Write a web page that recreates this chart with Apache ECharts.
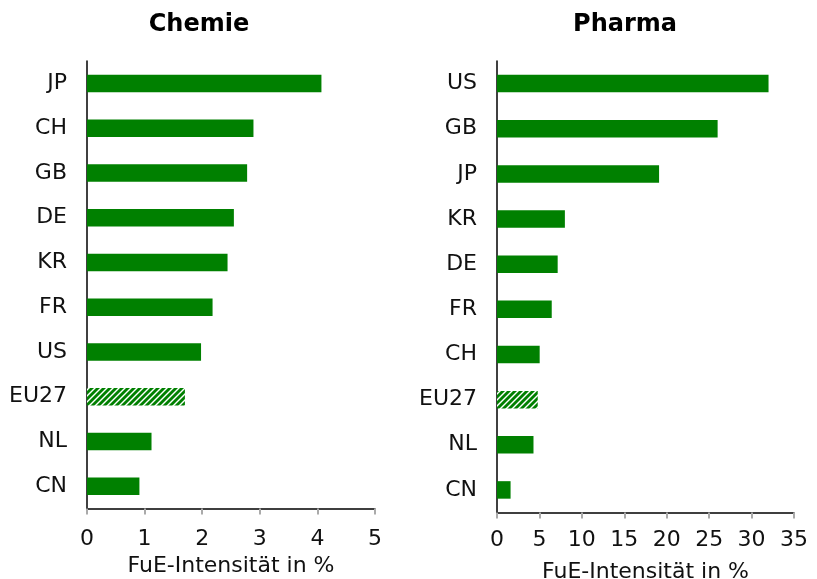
<!DOCTYPE html>
<html>
<head>
<meta charset="utf-8">
<script src="https://cdn.jsdelivr.net/npm/echarts@6/dist/echarts.min.js"></script>
<style>
  html, body { margin: 0; padding: 0; background: #fff; }
  #chart { width: 817px; height: 579px; }
</style>
</head>
<body>
<div id="chart"></div>
<script>
// Chemie
const chemieLabels = ['JP', 'CH', 'GB', 'DE', 'KR', 'FR', 'US', 'EU27', 'NL', 'CN']
const chemieValues = [4.07, 2.89, 2.78, 2.55, 2.44, 2.18, 1.98, 1.70, 1.12, 0.91]

// Pharma
const pharmaLabels = ['US', 'GB', 'JP', 'KR', 'DE', 'FR', 'CH', 'EU27', 'NL', 'CN']
const pharmaValues = [32.0, 26.0, 19.1, 8.0, 7.15, 6.45, 5.03, 4.8, 4.3, 1.6]

const hatchedLabel = 'EU27'
const green = '#008000'
const font = 'DejaVu Sans, Verdana, sans-serif'

// diagonal stripes for the EU27 bar
const hatch = document.createElement('canvas')
hatch.width = 6
hatch.height = 6
const ctx = hatch.getContext('2d')
ctx.fillStyle = '#fff'
ctx.fillRect(0, 0, 6, 6)
ctx.strokeStyle = green
ctx.lineWidth = 2.8
;[[-3, 3, 3, -3], [0, 6, 6, 0], [3, 9, 9, 3]].forEach(l => {
    ctx.beginPath()
    ctx.moveTo(l[0], l[1])
    ctx.lineTo(l[2], l[3])
    ctx.stroke()
})

const toData = (labels, values) => values.map((v, i) => {
    if (labels[i] === hatchedLabel) {
        return { value: v, itemStyle: { color: { image: hatch, repeat: 'repeat' } } }
    }
    return v
})

const xAxisBase = {
    type: 'value',
    name: 'FuE-Intensität in %',
    nameLocation: 'middle',
    nameTextStyle: { fontFamily: font, fontSize: 22, color: '#111' },
    axisLine: { show: true, lineStyle: { color: '#000', width: 1.5 } },
    axisTick: { show: true, length: 6, lineStyle: { color: '#aaa', width: 2 } },
    axisLabel: { fontFamily: font, fontSize: 22, color: '#111' },
    splitLine: { show: false }
}

const yAxisBase = {
    type: 'category',
    inverse: true,
    axisLine: { show: true, lineStyle: { color: '#000', width: 1.5 } },
    axisTick: { show: false },
    axisLabel: { fontFamily: font, fontSize: 22, color: '#111', margin: 20 }
}

var mychart = echarts.init(document.getElementById('chart'))

let option = {
    animation: false,
    backgroundColor: '#fff',
    title: [
        { text: 'Chemie', left: 194, top: 8, textAlign: 'center',
          textStyle: { fontFamily: font, fontSize: 24, fontWeight: 'bold', color: '#000' } },
        { text: 'Pharma', left: 620, top: 8, textAlign: 'center',
          textStyle: { fontFamily: font, fontSize: 24, fontWeight: 'bold', color: '#000' } }
    ],
    grid: [
        { left: 87, top: 61, width: 288, height: 447.5, outerBoundsMode: 'none' },
        { left: 497, top: 61, width: 297, height: 451.5, outerBoundsMode: 'none' }
    ],
    xAxis: [
        { ...xAxisBase, gridIndex: 0, min: 0, max: 5, interval: 1, nameGap: 47,
          axisLabel: { ...xAxisBase.axisLabel, margin: 20 } },
        { ...xAxisBase, gridIndex: 1, min: 0, max: 35, interval: 5, nameGap: 49,
          axisLabel: { ...xAxisBase.axisLabel, margin: 17 } }
    ],
    yAxis: [
        { ...yAxisBase, gridIndex: 0, data: chemieLabels },
        { ...yAxisBase, gridIndex: 1, data: pharmaLabels }
    ],
    series: [
        {
            type: 'bar',
            xAxisIndex: 0,
            yAxisIndex: 0,
            barWidth: 17.5,
            itemStyle: { color: green },
            data: toData(chemieLabels, chemieValues)
        },
        {
            type: 'bar',
            xAxisIndex: 1,
            yAxisIndex: 1,
            barWidth: 17.5,
            itemStyle: { color: green },
            data: toData(pharmaLabels, pharmaValues)
        }
    ]
}
mychart.setOption(option)
</script>
</body>
</html>
